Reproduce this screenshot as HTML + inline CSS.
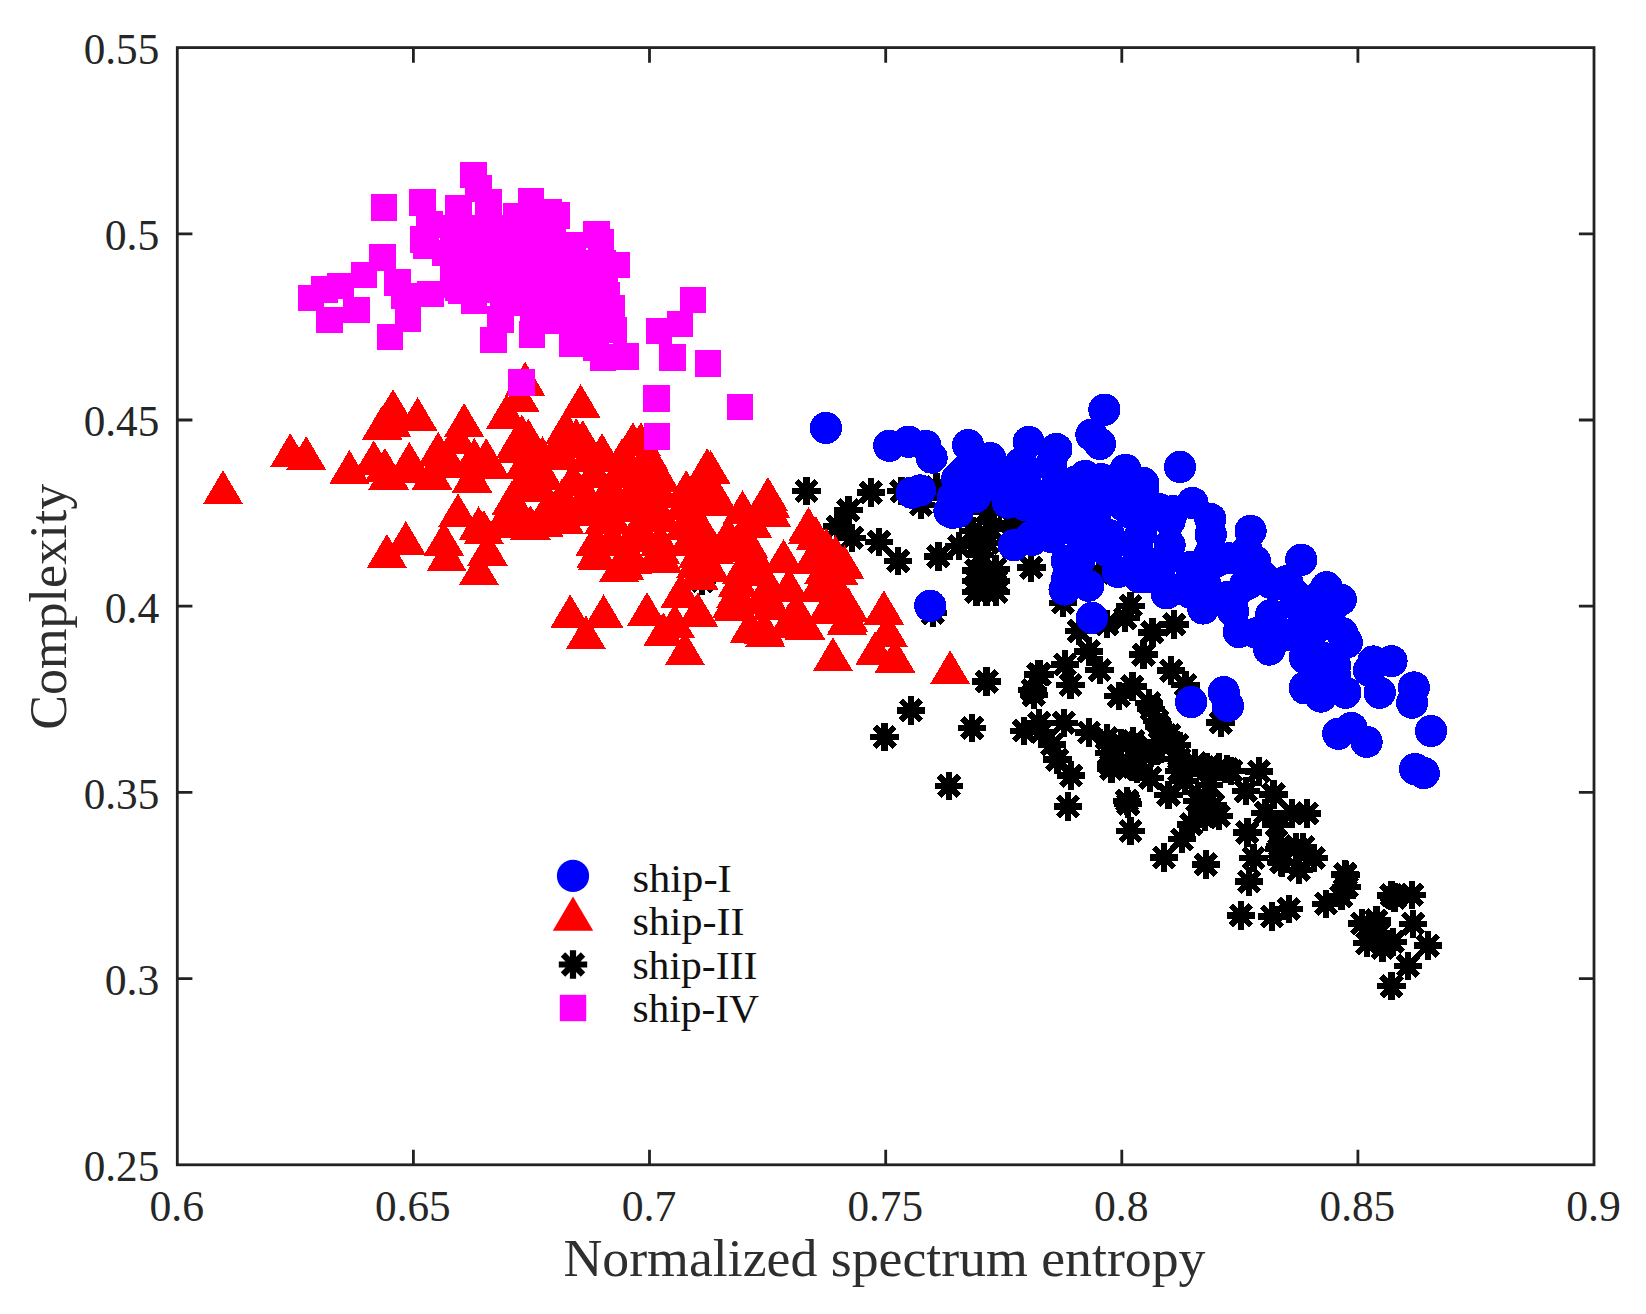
<!DOCTYPE html>
<html lang="en"><head><meta charset="utf-8"><title>Complexity vs normalized spectrum entropy</title>
<style>html,body{margin:0;padding:0;background:#fff}body{width:1646px;height:1314px;overflow:hidden}svg{display:block}text{font-family:"Liberation Serif","DejaVu Serif",serif;fill:#262626}.tk{font-size:44px}.lg{font-size:40.5px;fill:#111}.ax{font-size:52px;fill:#2e2e2e}</style></head><body>
<svg width="1646" height="1314" viewBox="0 0 1646 1314">
<rect x="0" y="0" width="1646" height="1314" fill="#fff"/>
<defs>
<circle id="c" r="16.1" fill="#0000ff"/>
<path id="t" d="M0 -22.8L20.2 11.4L-20.2 11.4Z" fill="#ff0000"/>
<rect id="s" x="-13.2" y="-13.2" width="26.4" height="26.4" fill="#ff00ff"/>
<path id="a" d="M0 -14.2V14.2M-14.2 0H14.2M-10 -10L10 10M-10 10L10 -10" stroke="#000" stroke-width="6.2" fill="none"/>
</defs>
<g shape-rendering="crispEdges"><g><use href="#a" x="1165.2" y="735.2"/><use href="#a" x="1135.2" y="747.2"/><use href="#a" x="1179.2" y="759.2"/><use href="#a" x="1207.2" y="767.2"/><use href="#a" x="1151.2" y="709.2"/><use href="#a" x="1231.2" y="771.2"/><use href="#a" x="1185.2" y="781.2"/><use href="#a" x="1155.2" y="751.2"/><use href="#a" x="1133.2" y="767.2"/><use href="#a" x="1209.2" y="785.2"/><use href="#a" x="1109.2" y="753.2"/><use href="#a" x="1157.2" y="721.2"/><use href="#a" x="1177.2" y="745.2"/><use href="#a" x="1133.2" y="741.2"/><use href="#a" x="1149.2" y="703.2"/><use href="#a" x="1195.2" y="763.2"/><use href="#a" x="1213.2" y="805.2"/><use href="#a" x="1219.2" y="767.2"/><use href="#a" x="1179.2" y="771.2"/><use href="#a" x="1303.2" y="847.2"/><use href="#a" x="1205.2" y="817.2"/><use href="#a" x="1151.2" y="753.2"/><use href="#a" x="1121.2" y="743.2"/><use href="#a" x="1169.2" y="735.2"/><use href="#a" x="1159.2" y="727.2"/><use href="#a" x="1227.2" y="769.2"/><use href="#a" x="1111.2" y="765.2"/><use href="#a" x="1279.2" y="849.2"/><use href="#a" x="1137.2" y="769.2"/><use href="#a" x="1098.8" y="572.7"/><use href="#a" x="936.4" y="487.2"/><use href="#a" x="702.1" y="581"/><use href="#a" x="806.4" y="491"/><use href="#a" x="870.7" y="492.5"/><use href="#a" x="901.6" y="491.3"/><use href="#a" x="848.6" y="510.3"/><use href="#a" x="837.5" y="526.6"/><use href="#a" x="852.1" y="537.8"/><use href="#a" x="879.1" y="541.9"/><use href="#a" x="898.1" y="561"/><use href="#a" x="920.9" y="504.7"/><use href="#a" x="938.4" y="556.5"/><use href="#a" x="959" y="546.1"/><use href="#a" x="977.4" y="544.1"/><use href="#a" x="991.1" y="528.9"/><use href="#a" x="986.6" y="512.2"/><use href="#a" x="993.4" y="507.6"/><use href="#a" x="1011.8" y="522.8"/><use href="#a" x="972.7" y="530.9"/><use href="#a" x="976.5" y="570.5"/><use href="#a" x="995.5" y="569"/><use href="#a" x="976.5" y="591.8"/><use href="#a" x="996.3" y="591.8"/><use href="#a" x="1031.3" y="567.4"/><use href="#a" x="932.8" y="613.1"/><use href="#a" x="986.4" y="570.5"/><use href="#a" x="986.4" y="591.8"/><use href="#a" x="976.5" y="581.1"/><use href="#a" x="996.3" y="581.1"/><use href="#a" x="980.3" y="555.3"/><use href="#a" x="987.9" y="543.1"/><use href="#a" x="986.6" y="681.5"/><use href="#a" x="910.9" y="710.4"/><use href="#a" x="884.6" y="736.8"/><use href="#a" x="972.1" y="728"/><use href="#a" x="949" y="786"/><use href="#a" x="1068" y="806.5"/><use href="#a" x="1032.3" y="689.9"/><use href="#a" x="1033.8" y="694.9"/><use href="#a" x="1039.9" y="674.4"/><use href="#a" x="1023.9" y="730.7"/><use href="#a" x="1039.1" y="723.1"/><use href="#a" x="1041.4" y="732.2"/><use href="#a" x="1052" y="744.4"/><use href="#a" x="1057.4" y="759.6"/><use href="#a" x="1071.1" y="775.6"/><use href="#a" x="1106.9" y="738.3"/><use href="#a" x="1111.4" y="768.8"/><use href="#a" x="1062.8" y="602.8"/><use href="#a" x="1078.8" y="631"/><use href="#a" x="1107" y="624.2"/><use href="#a" x="1130.6" y="605.9"/><use href="#a" x="1125.3" y="618.1"/><use href="#a" x="1174.3" y="624.5"/><use href="#a" x="1152.4" y="632.5"/><use href="#a" x="1143.5" y="654.6"/><use href="#a" x="1099.7" y="670.1"/><use href="#a" x="1088.7" y="651.6"/><use href="#a" x="1065.1" y="664.5"/><use href="#a" x="1070.5" y="685.1"/><use href="#a" x="1038.5" y="674.4"/><use href="#a" x="1118.7" y="696"/><use href="#a" x="1132.4" y="686.6"/><use href="#a" x="1171.2" y="670.6"/><use href="#a" x="1185.4" y="685.1"/><use href="#a" x="1220.7" y="722.4"/><use href="#a" x="1063.9" y="722.7"/><use href="#a" x="1089" y="732.6"/><use href="#a" x="1258.8" y="771.4"/><use href="#a" x="1127.1" y="800.9"/><use href="#a" x="1128.2" y="803.9"/><use href="#a" x="1130.5" y="830.9"/><use href="#a" x="1163.9" y="857.5"/><use href="#a" x="1205.8" y="864.5"/><use href="#a" x="1181.8" y="839.3"/><use href="#a" x="1191.4" y="824.5"/><use href="#a" x="1249.2" y="881.6"/><use href="#a" x="1240.8" y="915.4"/><use href="#a" x="1272" y="916.6"/><use href="#a" x="1288.8" y="909"/><use href="#a" x="1326.1" y="903.7"/><use href="#a" x="1345.4" y="874.7"/><use href="#a" x="1259.1" y="771.5"/><use href="#a" x="1273.6" y="794.4"/><use href="#a" x="1307.1" y="813.4"/><use href="#a" x="1292.1" y="813.4"/><use href="#a" x="1265.5" y="812.8"/><use href="#a" x="1247.4" y="832.6"/><use href="#a" x="1245.9" y="791"/><use href="#a" x="1253.5" y="858"/><use href="#a" x="1168.5" y="794.8"/><use href="#a" x="1150.2" y="778.1"/><use href="#a" x="1197.4" y="800.9"/><use href="#a" x="1218.8" y="816.1"/><use href="#a" x="1276.6" y="825.3"/><use href="#a" x="1281.2" y="861.8"/><use href="#a" x="1391.6" y="986.3"/><use href="#a" x="1407.9" y="965.9"/><use href="#a" x="1427.8" y="945.6"/><use href="#a" x="1413.2" y="923.8"/><use href="#a" x="1412.1" y="894.9"/><use href="#a" x="1391.6" y="895.4"/><use href="#a" x="1394.6" y="897.6"/><use href="#a" x="1361.9" y="923.5"/><use href="#a" x="1376.4" y="920.5"/><use href="#a" x="1367.2" y="943.3"/><use href="#a" x="1382.5" y="947.9"/><use href="#a" x="1393.1" y="941.8"/><use href="#a" x="1379.4" y="932.7"/><use href="#a" x="1345.2" y="874"/><use href="#a" x="1346.7" y="887"/><use href="#a" x="1341.4" y="896.1"/><use href="#a" x="1298.7" y="869.9"/><use href="#a" x="1282" y="862.6"/><use href="#a" x="1313.8" y="858.1"/><use href="#a" x="1295.7" y="847.4"/><use href="#a" x="1280.5" y="845.9"/></g><g><use href="#c" x="1025.1" y="475.1"/><use href="#c" x="1055.1" y="489.1"/><use href="#c" x="1093.1" y="507.1"/><use href="#c" x="1131.1" y="513.1"/><use href="#c" x="1061.1" y="521.1"/><use href="#c" x="1105.1" y="537.1"/><use href="#c" x="1301.1" y="609.1"/><use href="#c" x="1233.1" y="597.1"/><use href="#c" x="1137.1" y="545.1"/><use href="#c" x="1271.1" y="615.1"/><use href="#c" x="959.1" y="477.1"/><use href="#c" x="1333.1" y="667.1"/><use href="#c" x="1033.1" y="507.1"/><use href="#c" x="1315.1" y="629.1"/><use href="#c" x="1113.1" y="489.1"/><use href="#c" x="1081.1" y="537.1"/><use href="#c" x="1205.1" y="583.1"/><use href="#c" x="995.1" y="477.1"/><use href="#c" x="1161.1" y="565.1"/><use href="#c" x="1249.1" y="583.1"/><use href="#c" x="1159.1" y="509.1"/><use href="#c" x="1051.1" y="465.1"/><use href="#c" x="1289.1" y="635.1"/><use href="#c" x="1107.1" y="551.1"/><use href="#c" x="1049.1" y="535.1"/><use href="#c" x="1077.1" y="505.1"/><use href="#c" x="1181.1" y="589.1"/><use href="#c" x="1233.1" y="611.1"/><use href="#c" x="1295.1" y="595.1"/><use href="#c" x="1141.1" y="533.1"/><use href="#c" x="1021.1" y="463.1"/><use href="#c" x="1331.1" y="609.1"/><use href="#c" x="1079.1" y="561.1"/><use href="#c" x="953.1" y="497.1"/><use href="#c" x="1257.1" y="633.1"/><use href="#c" x="965.1" y="471.1"/><use href="#c" x="1321.1" y="657.1"/><use href="#c" x="1101.1" y="479.1"/><use href="#c" x="1109.1" y="535.1"/><use href="#c" x="1123.1" y="505.1"/><use href="#c" x="1025.1" y="483.1"/><use href="#c" x="1271.1" y="583.1"/><use href="#c" x="1287.1" y="581.1"/><use href="#c" x="1077.1" y="481.1"/><use href="#c" x="1247.1" y="551.1"/><use href="#c" x="1173.1" y="511.1"/><use href="#c" x="1095.1" y="515.1"/><use href="#c" x="1031.1" y="537.1"/><use href="#c" x="1335.1" y="675.1"/><use href="#c" x="1139.1" y="555.1"/><use href="#c" x="1217.1" y="561.1"/><use href="#c" x="1245.1" y="585.1"/><use href="#c" x="957.1" y="479.1"/><use href="#c" x="1067.1" y="579.1"/><use href="#c" x="1143.1" y="489.1"/><use href="#c" x="1025.1" y="505.1"/><use href="#c" x="1051.1" y="537.1"/><use href="#c" x="1047.1" y="509.1"/><use href="#c" x="1315.1" y="665.1"/><use href="#c" x="1319.1" y="597.1"/><use href="#c" x="1335.1" y="665.1"/><use href="#c" x="1227.1" y="597.1"/><use href="#c" x="1263.1" y="577.1"/><use href="#c" x="993.1" y="485.1"/><use href="#c" x="1191.1" y="593.1"/><use href="#c" x="1147.1" y="577.1"/><use href="#c" x="825.9" y="427.9"/><use href="#c" x="889.2" y="445.8"/><use href="#c" x="908.7" y="441.7"/><use href="#c" x="925.5" y="445.8"/><use href="#c" x="931.6" y="457.6"/><use href="#c" x="968.1" y="445.2"/><use href="#c" x="990.2" y="458"/><use href="#c" x="1028.7" y="442"/><use href="#c" x="1056.4" y="449"/><use href="#c" x="1104.4" y="409.7"/><use href="#c" x="1091.4" y="434.8"/><use href="#c" x="1085.3" y="475.9"/><use href="#c" x="911.8" y="492.7"/><use href="#c" x="920.1" y="490.4"/><use href="#c" x="949.5" y="511.2"/><use href="#c" x="957.4" y="512.2"/><use href="#c" x="975.1" y="497.2"/><use href="#c" x="1008" y="502.6"/><use href="#c" x="1013.9" y="545.2"/><use href="#c" x="1032" y="539.9"/><use href="#c" x="1091.4" y="435"/><use href="#c" x="1099.9" y="443.9"/><use href="#c" x="1180" y="466.9"/><use href="#c" x="1125.5" y="469.8"/><use href="#c" x="1143.1" y="482.9"/><use href="#c" x="1192.5" y="503"/><use href="#c" x="1210.3" y="518.9"/><use href="#c" x="1250.6" y="530.9"/><use href="#c" x="1301.3" y="559.8"/><use href="#c" x="1210" y="553.7"/><use href="#c" x="1229" y="558.3"/><use href="#c" x="1254.9" y="561.2"/><use href="#c" x="1279.2" y="584"/><use href="#c" x="1210.7" y="534.5"/><use href="#c" x="1169.6" y="520.8"/><use href="#c" x="1169.6" y="545.2"/><use href="#c" x="1190.9" y="566.7"/><use href="#c" x="1092" y="617.8"/><use href="#c" x="1191.2" y="702.1"/><use href="#c" x="1223.7" y="692.1"/><use href="#c" x="1227.9" y="706"/><use href="#c" x="1088.2" y="585.7"/><use href="#c" x="1117.9" y="572"/><use href="#c" x="1139.2" y="577.3"/><use href="#c" x="1166.6" y="593.3"/><use href="#c" x="1203.1" y="608.5"/><use href="#c" x="1238.9" y="632.1"/><use href="#c" x="1269.3" y="649.6"/><use href="#c" x="1305.3" y="655.7"/><use href="#c" x="1305" y="688.4"/><use href="#c" x="1064.6" y="589.5"/><use href="#c" x="1326.5" y="587.2"/><use href="#c" x="1340.8" y="599.7"/><use href="#c" x="1342.2" y="633.2"/><use href="#c" x="1346.9" y="642.4"/><use href="#c" x="1373.4" y="661.5"/><use href="#c" x="1369" y="670.5"/><use href="#c" x="1391.5" y="661.1"/><use href="#c" x="1413.9" y="687.4"/><use href="#c" x="1272.9" y="642.4"/><use href="#c" x="1305.1" y="658.3"/><use href="#c" x="1305.1" y="687.3"/><use href="#c" x="1412.1" y="702.7"/><use href="#c" x="1379.7" y="692.7"/><use href="#c" x="1431.1" y="731"/><use href="#c" x="1415" y="769.1"/><use href="#c" x="1423.8" y="773.1"/><use href="#c" x="1338.3" y="733.8"/><use href="#c" x="1351.4" y="728"/><use href="#c" x="1366.6" y="741.9"/><use href="#c" x="1320.9" y="696.6"/><use href="#c" x="1345.4" y="692.7"/><use href="#c" x="930.2" y="605.8"/><use href="#c" x="952.8" y="512.8"/><use href="#c" x="1066.7" y="560.9"/></g><g><use href="#t" x="610.2" y="490.8"/><use href="#t" x="640.2" y="510.8"/><use href="#t" x="684.2" y="528.8"/><use href="#t" x="722.2" y="550.8"/><use href="#t" x="632.2" y="540.8"/><use href="#t" x="584.2" y="514.8"/><use href="#t" x="712.2" y="504.8"/><use href="#t" x="752.2" y="556.8"/><use href="#t" x="764.2" y="602.8"/><use href="#t" x="818.2" y="590.8"/><use href="#t" x="612.2" y="522.8"/><use href="#t" x="662.2" y="520.8"/><use href="#t" x="630.2" y="470.8"/><use href="#t" x="698.2" y="556.8"/><use href="#t" x="812.2" y="562.8"/><use href="#t" x="792.2" y="620.8"/><use href="#t" x="506.2" y="524.8"/><use href="#t" x="760.2" y="574.8"/><use href="#t" x="702.2" y="534.8"/><use href="#t" x="660.2" y="496.8"/><use href="#t" x="828.2" y="612.8"/><use href="#t" x="594.2" y="476.8"/><use href="#t" x="660.2" y="544.8"/><use href="#t" x="632.2" y="562.8"/><use href="#t" x="564.2" y="522.8"/><use href="#t" x="630.2" y="498.8"/><use href="#t" x="728.2" y="538.8"/><use href="#t" x="710.2" y="570.8"/><use href="#t" x="586.2" y="498.8"/><use href="#t" x="684.2" y="508.8"/><use href="#t" x="712.2" y="492.8"/><use href="#t" x="838.2" y="594.8"/><use href="#t" x="772.2" y="608.8"/><use href="#t" x="612.2" y="542.8"/><use href="#t" x="648.2" y="458.8"/><use href="#t" x="688.2" y="544.8"/><use href="#t" x="588.2" y="460.8"/><use href="#t" x="640.2" y="532.8"/><use href="#t" x="736.2" y="596.8"/><use href="#t" x="660.2" y="480.8"/><use href="#t" x="562.2" y="500.8"/><use href="#t" x="610.2" y="506.8"/><use href="#t" x="620.2" y="476.8"/><use href="#t" x="526.2" y="480.8"/><use href="#t" x="748.2" y="546.8"/><use href="#t" x="518.2" y="526.8"/><use href="#t" x="742.2" y="572.8"/><use href="#t" x="826.2" y="550.8"/><use href="#t" x="798.2" y="624.8"/><use href="#t" x="598.2" y="558.8"/><use href="#t" x="660.2" y="552.8"/><use href="#t" x="696.2" y="566.8"/><use href="#t" x="560.2" y="446.8"/><use href="#t" x="824.2" y="572.8"/><use href="#t" x="752.2" y="526.8"/><use href="#t" x="768.2" y="590.8"/><use href="#t" x="698.2" y="496.8"/><use href="#t" x="624.2" y="568.8"/><use href="#t" x="714.2" y="552.8"/><use href="#t" x="604.2" y="522.8"/><use href="#t" x="808.2" y="532.8"/><use href="#t" x="576.2" y="440.8"/><use href="#t" x="770.2" y="506.8"/><use href="#t" x="640.2" y="500.8"/><use href="#t" x="848.2" y="620.8"/><use href="#t" x="718.2" y="502.8"/><use href="#t" x="798.2" y="616.8"/><use href="#t" x="622.2" y="460.8"/><use href="#t" x="732.2" y="606.8"/><use href="#t" x="764.2" y="632.8"/><use href="#t" x="516.2" y="446.8"/><use href="#t" x="504.2" y="522.8"/><use href="#t" x="696.2" y="522.8"/><use href="#t" x="788.2" y="626.8"/><use href="#t" x="830.2" y="606.8"/><use href="#t" x="223" y="493"/><use href="#t" x="290.2" y="455.9"/><use href="#t" x="306.2" y="458.9"/><use href="#t" x="393" y="411.8"/><use href="#t" x="382.2" y="428.3"/><use href="#t" x="391.3" y="426"/><use href="#t" x="417.6" y="419.9"/><use href="#t" x="464.1" y="425.8"/><use href="#t" x="525.1" y="384.5"/><use href="#t" x="519.7" y="401"/><use href="#t" x="506.4" y="417.2"/><use href="#t" x="580.6" y="406.8"/><use href="#t" x="521.9" y="437.4"/><use href="#t" x="528.3" y="441.5"/><use href="#t" x="542.5" y="459"/><use href="#t" x="582.8" y="443"/><use href="#t" x="565.6" y="432.1"/><use href="#t" x="349.4" y="472.7"/><use href="#t" x="373.8" y="463.1"/><use href="#t" x="384.9" y="470.8"/><use href="#t" x="388.7" y="478.1"/><use href="#t" x="409.3" y="464.7"/><use href="#t" x="432" y="478.1"/><use href="#t" x="438.2" y="454.5"/><use href="#t" x="472" y="481.1"/><use href="#t" x="486.2" y="460.9"/><use href="#t" x="457.2" y="442.3"/><use href="#t" x="561.5" y="458.6"/><use href="#t" x="490" y="467.9"/><use href="#t" x="524.2" y="467.9"/><use href="#t" x="512" y="503.2"/><use href="#t" x="458" y="516.1"/><use href="#t" x="478.6" y="529.1"/><use href="#t" x="483.9" y="532.9"/><use href="#t" x="530.6" y="528.3"/><use href="#t" x="543.6" y="526"/><use href="#t" x="405.8" y="543.8"/><use href="#t" x="386.9" y="556.8"/><use href="#t" x="443.8" y="544.3"/><use href="#t" x="487.5" y="554.2"/><use href="#t" x="474.3" y="460.6"/><use href="#t" x="410" y="472"/><use href="#t" x="449.6" y="466.2"/><use href="#t" x="516.6" y="451.7"/><use href="#t" x="543.4" y="478.1"/><use href="#t" x="572.9" y="484.2"/><use href="#t" x="533.4" y="490.7"/><use href="#t" x="549.5" y="508.5"/><use href="#t" x="602" y="456"/><use href="#t" x="632.9" y="445"/><use href="#t" x="640.9" y="445"/><use href="#t" x="654.5" y="474.6"/><use href="#t" x="686.2" y="492.8"/><use href="#t" x="707.2" y="470.9"/><use href="#t" x="710.5" y="472.7"/><use href="#t" x="742.5" y="513.1"/><use href="#t" x="767.9" y="499.8"/><use href="#t" x="783.6" y="561.8"/><use href="#t" x="595.6" y="544.7"/><use href="#t" x="770.8" y="515.4"/><use href="#t" x="748.7" y="526.8"/><use href="#t" x="808.5" y="529.8"/><use href="#t" x="815.8" y="539"/><use href="#t" x="446.6" y="560.1"/><use href="#t" x="478.9" y="574.1"/><use href="#t" x="570.2" y="617.1"/><use href="#t" x="585.9" y="638.1"/><use href="#t" x="603.6" y="617.1"/><use href="#t" x="647" y="614.9"/><use href="#t" x="680.8" y="596.2"/><use href="#t" x="697.9" y="615.2"/><use href="#t" x="674.7" y="626.3"/><use href="#t" x="663.3" y="635"/><use href="#t" x="684.9" y="654"/><use href="#t" x="618.9" y="571.1"/><use href="#t" x="596.3" y="556.9"/><use href="#t" x="661.8" y="561.2"/><use href="#t" x="750.1" y="631.2"/><use href="#t" x="765" y="636.1"/><use href="#t" x="734" y="609.4"/><use href="#t" x="737.9" y="585.8"/><use href="#t" x="698.5" y="578.5"/><use href="#t" x="844.4" y="568"/><use href="#t" x="838.5" y="573.9"/><use href="#t" x="835.5" y="558.3"/><use href="#t" x="789" y="590.3"/><use href="#t" x="950.1" y="673.1"/><use href="#t" x="883.9" y="613.2"/><use href="#t" x="887.7" y="635.5"/><use href="#t" x="895" y="661.2"/><use href="#t" x="875.2" y="654"/><use href="#t" x="832.9" y="660.1"/><use href="#t" x="848.4" y="610.4"/><use href="#t" x="847" y="623.6"/><use href="#t" x="765.1" y="636.1"/><use href="#t" x="805" y="628.2"/></g><g><use href="#s" x="384.3" y="207.5"/><use href="#s" x="473.4" y="175.2"/><use href="#s" x="478.6" y="188.4"/><use href="#s" x="422.4" y="202.4"/><use href="#s" x="429.6" y="224.5"/><use href="#s" x="458.5" y="208.4"/><use href="#s" x="488.6" y="202.4"/><use href="#s" x="531.3" y="201.4"/><use href="#s" x="423.5" y="239.4"/><use href="#s" x="426.2" y="245.5"/><use href="#s" x="445.2" y="252.7"/><use href="#s" x="453.2" y="269.9"/><use href="#s" x="430.6" y="293.8"/><use href="#s" x="397.6" y="282.4"/><use href="#s" x="382.4" y="257.4"/><use href="#s" x="364.1" y="275.2"/><use href="#s" x="340.5" y="286.3"/><use href="#s" x="324.5" y="289.4"/><use href="#s" x="311.3" y="298.3"/><use href="#s" x="329.4" y="320.1"/><use href="#s" x="356.5" y="310.2"/><use href="#s" x="407.8" y="318.6"/><use href="#s" x="404.4" y="295.8"/><use href="#s" x="390.3" y="337.2"/><use href="#s" x="493.5" y="340.2"/><use href="#s" x="548.9" y="212.3"/><use href="#s" x="556.8" y="215.4"/><use href="#s" x="596.4" y="234.4"/><use href="#s" x="600.7" y="242.2"/><use href="#s" x="616.7" y="265.3"/><use href="#s" x="606.8" y="295.3"/><use href="#s" x="611.6" y="308.2"/><use href="#s" x="613.6" y="330.3"/><use href="#s" x="625.8" y="356.4"/><use href="#s" x="693.2" y="300.3"/><use href="#s" x="680.3" y="324.2"/><use href="#s" x="659.3" y="331.2"/><use href="#s" x="532.1" y="334.6"/><use href="#s" x="500.5" y="319.4"/><use href="#s" x="521.5" y="382.4"/><use href="#s" x="708.3" y="363.4"/><use href="#s" x="656.5" y="398.6"/><use href="#s" x="740.3" y="407.3"/><use href="#s" x="657.3" y="436.5"/><use href="#s" x="672.5" y="357.4"/><use href="#s" x="603.2" y="357.4"/><use href="#s" x="595.7" y="347.4"/><use href="#s" x="572.3" y="343.8"/><use href="#s" x="516.3" y="216.3"/><use href="#s" x="525.3" y="216.3"/><use href="#s" x="453.3" y="228.3"/><use href="#s" x="473.3" y="228.3"/><use href="#s" x="493.3" y="228.3"/><use href="#s" x="513.3" y="228.3"/><use href="#s" x="533.3" y="228.3"/><use href="#s" x="553.3" y="228.3"/><use href="#s" x="453.3" y="245.3"/><use href="#s" x="473.3" y="245.3"/><use href="#s" x="493.3" y="245.3"/><use href="#s" x="513.3" y="245.3"/><use href="#s" x="533.3" y="245.3"/><use href="#s" x="553.3" y="245.3"/><use href="#s" x="573.3" y="245.3"/><use href="#s" x="463.3" y="263.3"/><use href="#s" x="483.3" y="263.3"/><use href="#s" x="503.3" y="263.3"/><use href="#s" x="523.3" y="263.3"/><use href="#s" x="543.3" y="263.3"/><use href="#s" x="563.3" y="263.3"/><use href="#s" x="583.3" y="263.3"/><use href="#s" x="603.3" y="263.3"/><use href="#s" x="460.3" y="281.3"/><use href="#s" x="478.3" y="281.3"/><use href="#s" x="498.3" y="281.3"/><use href="#s" x="518.3" y="281.3"/><use href="#s" x="538.3" y="281.3"/><use href="#s" x="558.3" y="281.3"/><use href="#s" x="578.3" y="281.3"/><use href="#s" x="598.3" y="281.3"/><use href="#s" x="488.3" y="290.3"/><use href="#s" x="508.3" y="290.3"/><use href="#s" x="528.3" y="290.3"/><use href="#s" x="548.3" y="290.3"/><use href="#s" x="568.3" y="290.3"/><use href="#s" x="588.3" y="290.3"/><use href="#s" x="605.3" y="290.3"/><use href="#s" x="503.3" y="303.3"/><use href="#s" x="523.3" y="303.3"/><use href="#s" x="543.3" y="303.3"/><use href="#s" x="563.3" y="303.3"/><use href="#s" x="583.3" y="303.3"/><use href="#s" x="603.3" y="303.3"/><use href="#s" x="533.3" y="321.3"/><use href="#s" x="553.3" y="321.3"/><use href="#s" x="573.3" y="321.3"/><use href="#s" x="593.3" y="321.3"/><use href="#s" x="573.3" y="335.3"/><use href="#s" x="591.3" y="335.3"/><use href="#s" x="453.3" y="284.7"/><use href="#s" x="457.7" y="287.4"/><use href="#s" x="460.8" y="290.4"/><use href="#s" x="473.7" y="300.6"/></g></g>
<g stroke="#222" stroke-width="2.8" fill="none" stroke-linecap="butt">
<rect x="177.3" y="47.6" width="1416.7" height="1117.2"/>
<path d="M413.4 1164.8v-15.1M413.4 47.6v15.1M177.3 233.8h15.1M1594.0 233.8h-15.1M649.5 1164.8v-15.1M649.5 47.6v15.1M177.3 420h15.1M1594.0 420h-15.1M885.7 1164.8v-15.1M885.7 47.6v15.1M177.3 606.2h15.1M1594.0 606.2h-15.1M1121.8 1164.8v-15.1M1121.8 47.6v15.1M177.3 792.4h15.1M1594.0 792.4h-15.1M1357.9 1164.8v-15.1M1357.9 47.6v15.1M177.3 978.6h15.1M1594.0 978.6h-15.1"/></g>
<text class="tk" x="176.8" y="1221.2" text-anchor="middle" textLength="54.6" lengthAdjust="spacingAndGlyphs">0.6</text>
<text class="tk" x="412.9" y="1221.2" text-anchor="middle" textLength="75.6" lengthAdjust="spacingAndGlyphs">0.65</text>
<text class="tk" x="649" y="1221.2" text-anchor="middle" textLength="54.6" lengthAdjust="spacingAndGlyphs">0.7</text>
<text class="tk" x="885.2" y="1221.2" text-anchor="middle" textLength="75.6" lengthAdjust="spacingAndGlyphs">0.75</text>
<text class="tk" x="1121.3" y="1221.2" text-anchor="middle" textLength="54.6" lengthAdjust="spacingAndGlyphs">0.8</text>
<text class="tk" x="1357.4" y="1221.2" text-anchor="middle" textLength="75.6" lengthAdjust="spacingAndGlyphs">0.85</text>
<text class="tk" x="1593.5" y="1221.2" text-anchor="middle" textLength="54.6" lengthAdjust="spacingAndGlyphs">0.9</text>
<text class="tk" x="159.3" y="64" text-anchor="end" textLength="75.6" lengthAdjust="spacingAndGlyphs">0.55</text>
<text class="tk" x="159.3" y="250.2" text-anchor="end" textLength="54.6" lengthAdjust="spacingAndGlyphs">0.5</text>
<text class="tk" x="159.3" y="436.4" text-anchor="end" textLength="75.6" lengthAdjust="spacingAndGlyphs">0.45</text>
<text class="tk" x="159.3" y="622.6" text-anchor="end" textLength="54.6" lengthAdjust="spacingAndGlyphs">0.4</text>
<text class="tk" x="159.3" y="808.8" text-anchor="end" textLength="75.6" lengthAdjust="spacingAndGlyphs">0.35</text>
<text class="tk" x="159.3" y="995" text-anchor="end" textLength="54.6" lengthAdjust="spacingAndGlyphs">0.3</text>
<text class="tk" x="159.3" y="1181.2" text-anchor="end" textLength="75.6" lengthAdjust="spacingAndGlyphs">0.25</text>
<text class="ax" x="884.5" y="1276" text-anchor="middle" textLength="642" lengthAdjust="spacingAndGlyphs">Normalized spectrum entropy</text>
<text class="ax" transform="translate(65.5 606.8) rotate(-90)" text-anchor="middle" textLength="246" lengthAdjust="spacingAndGlyphs">Complexity</text>
<use href="#c" x="573" y="875.9"/><use href="#t" x="573" y="919.3"/><use href="#a" x="573" y="964.5"/><use href="#s" x="573" y="1008.0"/>
<text class="lg" x="632.4" y="892.0" textLength="99.4" lengthAdjust="spacingAndGlyphs">ship-I</text>
<text class="lg" x="632.4" y="935.2" textLength="112.1" lengthAdjust="spacingAndGlyphs">ship-II</text>
<text class="lg" x="632.4" y="978.6" textLength="125" lengthAdjust="spacingAndGlyphs">ship-III</text>
<text class="lg" x="632.4" y="1021.6" textLength="126.6" lengthAdjust="spacingAndGlyphs">ship-IV</text>
</svg></body></html>
